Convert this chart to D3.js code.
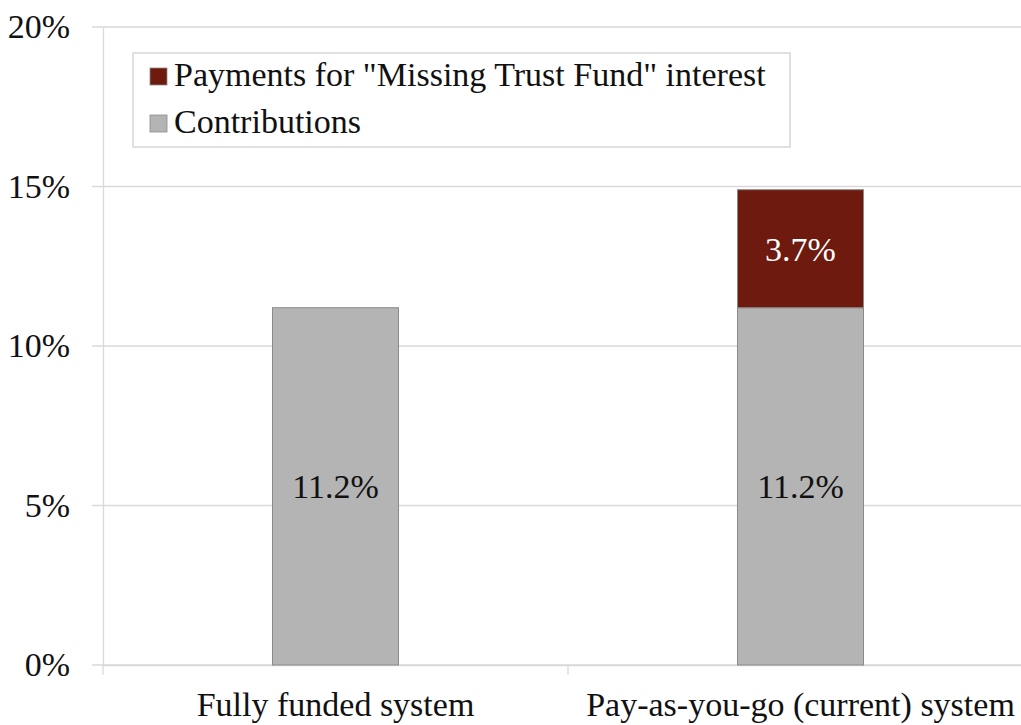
<!DOCTYPE html>
<html>
<head>
<meta charset="utf-8">
<script src="https://cdn.jsdelivr.net/npm/d3@7"></script>
<style>
  body { margin: 0; background: white; }
  text { font-family: "Liberation Serif", "Times New Roman", serif; }
</style>
</head>
<body>
<div class="chart"></div>
<script>
var width = 1021;
var height = 725;
var fontSize = 34;

var categories = ['Fully funded system', 'Pay-as-you-go (current) system'];
var contributions = [11.2, 11.2];
var missingInterest = [0, 3.7];
var yTicks = [0, 5, 10, 15, 20];
var seriesNames = ['Payments for "Missing Trust Fund" interest', 'Contributions'];

var colorKey = {
    "interest": "#6E1A0E",
    "contrib": "#B4B4B4"
};

var x = d3.scaleBand()
    .domain(categories)
    .range([103, 1033])
    .paddingInner(0.729)
    .paddingOuter(0.3645);
var y = d3.scaleLinear().domain([0, 20]).range([665, 27]);

var svg = d3.select(".chart")
    .append("svg")
    .attr("width", width)
    .attr("height", height);

svg.append("rect")
    .attr("width", width)
    .attr("height", height)
    .attr("fill", "white");

// gridlines
svg.selectAll(".grid")
    .data(yTicks)
    .enter().append("line")
    .attr("x1", 92)
    .attr("x2", width)
    .attr("y1", function(d) { return y(d); })
    .attr("y2", function(d) { return y(d); })
    .attr("stroke", "#d9d9d9")
    .attr("stroke-width", 1.3);

// y axis
var yAxis = d3.axisLeft(y)
    .tickValues(yTicks)
    .tickSize(0)
    .tickPadding(33)
    .tickFormat(function(d) { return d + "%"; });

var gy = svg.append("g")
    .attr("transform", "translate(103,0)")
    .call(yAxis);
gy.select(".domain").attr("stroke", "#d9d9d9").attr("stroke-width", 1.3);
gy.selectAll("text")
    .attr("font-size", fontSize)
    .attr("fill", "#111")
    .attr("font-family", "Liberation Serif");

// x axis
var xAxis = d3.axisBottom(x).tickSize(0).tickPadding(27);
var gx = svg.append("g")
    .attr("transform", "translate(0," + y(0) + ")")
    .call(xAxis);
gx.select(".domain").attr("stroke", "#d9d9d9").attr("stroke-width", 1.3);
gx.selectAll("text")
    .attr("font-size", fontSize)
    .attr("fill", "#111")
    .attr("font-family", "Liberation Serif");

// category separators
var seps = [x.range()[0], x(categories[1]) - x.step() * x.paddingInner() / 2];
svg.selectAll(".sep")
    .data(seps)
    .enter().append("line")
    .attr("x1", function(d) { return d; })
    .attr("x2", function(d) { return d; })
    .attr("y1", y(0))
    .attr("y2", y(0) + 10)
    .attr("stroke", "#d9d9d9")
    .attr("stroke-width", 1.3);

var rows = categories.map(function(c, i) {
    return { cat: c, contrib: contributions[i], interest: missingInterest[i] };
});

// contributions bars
svg.selectAll(".contrib")
    .data(rows)
    .enter().append("rect")
    .attr("x", function(d) { return x(d.cat); })
    .attr("y", function(d) { return y(d.contrib); })
    .attr("width", x.bandwidth())
    .attr("height", function(d) { return y(0) - y(d.contrib); })
    .attr("fill", colorKey.contrib)
    .attr("stroke", "#8a8a8a")
    .attr("stroke-width", 1);

// interest bars
svg.selectAll(".interest")
    .data(rows.filter(function(d) { return d.interest > 0; }))
    .enter().append("rect")
    .attr("x", function(d) { return x(d.cat); })
    .attr("y", function(d) { return y(d.contrib + d.interest); })
    .attr("width", x.bandwidth())
    .attr("height", function(d) { return y(d.contrib) - y(d.contrib + d.interest); })
    .attr("fill", colorKey.interest)
    .attr("stroke", "#8a8a8a")
    .attr("stroke-width", 1);

// labels
svg.selectAll(".lblc")
    .data(rows)
    .enter().append("text")
    .attr("x", function(d) { return x(d.cat) + x.bandwidth() / 2; })
    .attr("y", function(d) { return (y(0) + y(d.contrib)) / 2; })
    .attr("dy", ".35em")
    .attr("text-anchor", "middle")
    .attr("font-size", fontSize)
    .attr("fill", "#111")
    .text(function(d) { return d.contrib.toFixed(1) + "%"; });

svg.selectAll(".lbli")
    .data(rows.filter(function(d) { return d.interest > 0; }))
    .enter().append("text")
    .attr("x", function(d) { return x(d.cat) + x.bandwidth() / 2; })
    .attr("y", function(d) { return (y(d.contrib) + y(d.contrib + d.interest)) / 2; })
    .attr("dy", ".35em")
    .attr("text-anchor", "middle")
    .attr("font-size", fontSize)
    .attr("fill", "white")
    .text(function(d) { return d.interest.toFixed(1) + "%"; });

// legend
var legend = svg.append("g");
legend.append("rect")
    .attr("x", 133)
    .attr("y", 53)
    .attr("width", 657)
    .attr("height", 94)
    .attr("fill", "white")
    .attr("stroke", "#d0d0d0")
    .attr("stroke-width", 1.3);

var legendColors = [colorKey.interest, colorKey.contrib];
var items = legend.selectAll(".item")
    .data(seriesNames)
    .enter().append("g")
    .attr("transform", function(d, i) { return "translate(150," + (68 + i * 47) + ")"; });
items.append("rect")
    .attr("width", 17)
    .attr("height", 17)
    .attr("fill", function(d, i) { return legendColors[i]; })
    .attr("stroke", "#8a8a8a")
    .attr("stroke-width", 0.8);
items.append("text")
    .attr("x", 24)
    .attr("y", 18)
    .attr("font-size", fontSize)
    .attr("fill", "#111")
    .text(function(d) { return d; });
</script>
</body>
</html>
